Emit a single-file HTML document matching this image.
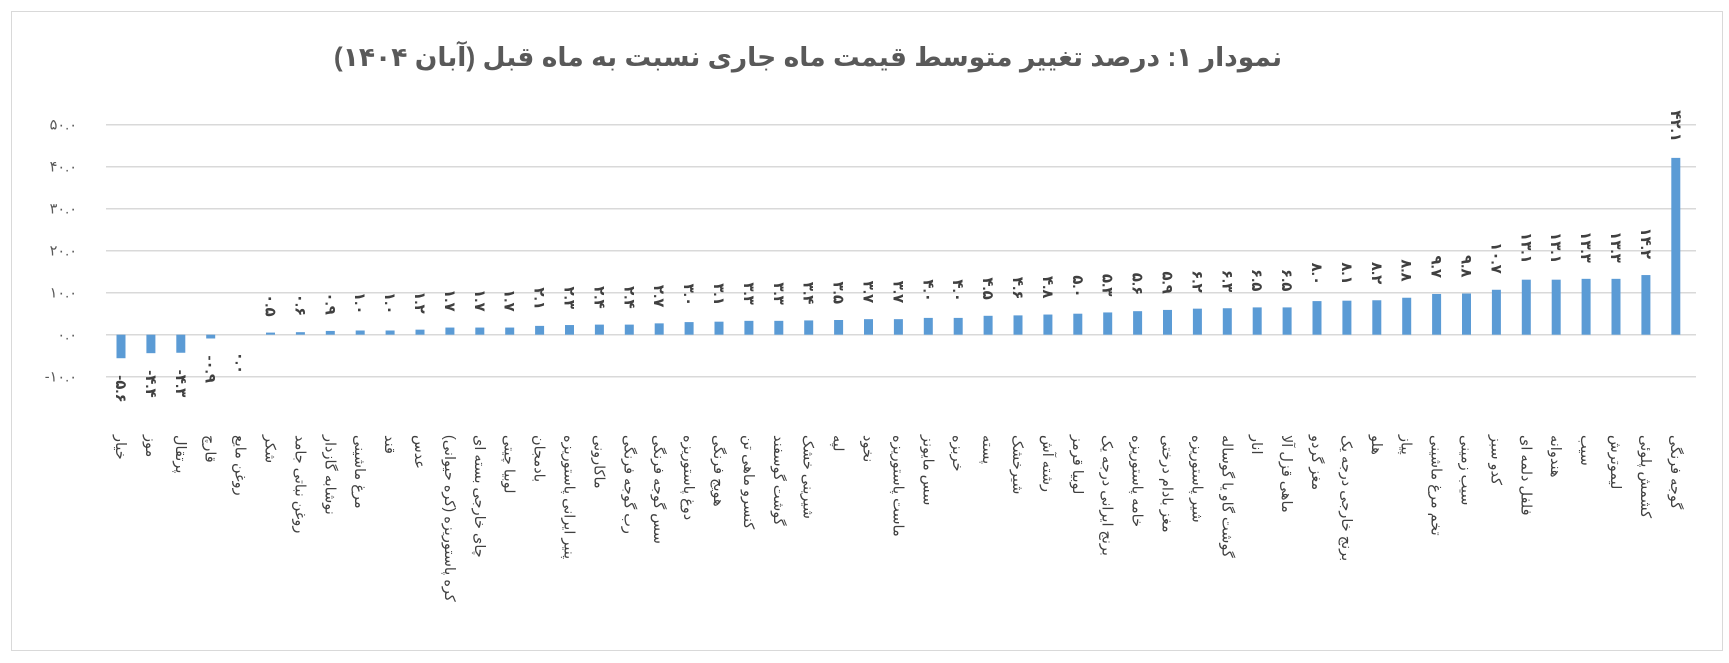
<!DOCTYPE html>
<html><head><meta charset="utf-8"><style>
html,body{margin:0;padding:0;background:#fff;}
svg{display:block;font-family:"Liberation Sans","DejaVu Sans",sans-serif;}
.c{font-size:14.5px;fill:#404040;}
.d{font-size:15px;font-weight:bold;fill:#404040;}
.y{font-size:14.5px;fill:#595959;}
</style></head><body>
<svg width="1729" height="663" viewBox="0 0 1729 663" xmlns="http://www.w3.org/2000/svg">
<rect x="11.5" y="11.5" width="1711" height="639" fill="#fff" stroke="#d9d9d9" stroke-width="1"/>
<text x="808" y="66" text-anchor="middle" direction="rtl" font-size="26.5" font-weight="bold" fill="#595959">نمودار ۱: درصد تغییر متوسط قیمت ماه جاری نسبت به ماه قبل (آبان ۱۴۰۴)</text>
<g stroke="#d9d9d9" stroke-width="1.5">
<line x1="106" x2="1696" y1="124.7" y2="124.7"/>
<line x1="106" x2="1696" y1="166.7" y2="166.7"/>
<line x1="106" x2="1696" y1="208.7" y2="208.7"/>
<line x1="106" x2="1696" y1="250.7" y2="250.7"/>
<line x1="106" x2="1696" y1="292.7" y2="292.7"/>
<line x1="106" x2="1696" y1="334.7" y2="334.7"/>
<line x1="106" x2="1696" y1="376.7" y2="376.7"/>
</g>
<g class="y" text-anchor="end" direction="ltr">
<text x="77" y="129.7">۵۰.۰</text>
<text x="77" y="171.7">۴۰.۰</text>
<text x="77" y="213.7">۳۰.۰</text>
<text x="77" y="255.7">۲۰.۰</text>
<text x="77" y="297.7">۱۰.۰</text>
<text x="77" y="339.7">۰.۰</text>
<text x="77" y="381.7">-۱۰.۰</text>
</g>
<g transform="translate(0,334.7) scale(1,-4.2)" fill="#5b9bd5">
<rect x="116.5" y="-5.6" width="9" height="5.6"/>
<rect x="146.4" y="-4.4" width="9" height="4.4"/>
<rect x="176.3" y="-4.3" width="9" height="4.3"/>
<rect x="206.2" y="-0.9" width="9" height="0.9"/>
<rect x="266.0" y="0" width="9" height="0.5"/>
<rect x="295.9" y="0" width="9" height="0.6"/>
<rect x="325.8" y="0" width="9" height="0.9"/>
<rect x="355.7" y="0" width="9" height="1.0"/>
<rect x="385.6" y="0" width="9" height="1.0"/>
<rect x="415.5" y="0" width="9" height="1.2"/>
<rect x="445.4" y="0" width="9" height="1.7"/>
<rect x="475.3" y="0" width="9" height="1.7"/>
<rect x="505.2" y="0" width="9" height="1.7"/>
<rect x="535.1" y="0" width="9" height="2.1"/>
<rect x="565.0" y="0" width="9" height="2.3"/>
<rect x="594.9" y="0" width="9" height="2.4"/>
<rect x="624.8" y="0" width="9" height="2.4"/>
<rect x="654.7" y="0" width="9" height="2.7"/>
<rect x="684.6" y="0" width="9" height="3.0"/>
<rect x="714.5" y="0" width="9" height="3.1"/>
<rect x="744.4" y="0" width="9" height="3.3"/>
<rect x="774.3" y="0" width="9" height="3.3"/>
<rect x="804.2" y="0" width="9" height="3.4"/>
<rect x="834.1" y="0" width="9" height="3.5"/>
<rect x="864.0" y="0" width="9" height="3.7"/>
<rect x="893.9" y="0" width="9" height="3.7"/>
<rect x="923.8" y="0" width="9" height="4.0"/>
<rect x="953.7" y="0" width="9" height="4.0"/>
<rect x="983.6" y="0" width="9" height="4.5"/>
<rect x="1013.5" y="0" width="9" height="4.6"/>
<rect x="1043.4" y="0" width="9" height="4.8"/>
<rect x="1073.3" y="0" width="9" height="5.0"/>
<rect x="1103.2" y="0" width="9" height="5.3"/>
<rect x="1133.1" y="0" width="9" height="5.6"/>
<rect x="1163.0" y="0" width="9" height="5.9"/>
<rect x="1192.9" y="0" width="9" height="6.2"/>
<rect x="1222.8" y="0" width="9" height="6.3"/>
<rect x="1252.7" y="0" width="9" height="6.5"/>
<rect x="1282.6" y="0" width="9" height="6.5"/>
<rect x="1312.5" y="0" width="9" height="8.0"/>
<rect x="1342.4" y="0" width="9" height="8.1"/>
<rect x="1372.3" y="0" width="9" height="8.2"/>
<rect x="1402.2" y="0" width="9" height="8.8"/>
<rect x="1432.1" y="0" width="9" height="9.7"/>
<rect x="1462.0" y="0" width="9" height="9.8"/>
<rect x="1491.9" y="0" width="9" height="10.7"/>
<rect x="1521.8" y="0" width="9" height="13.1"/>
<rect x="1551.7" y="0" width="9" height="13.1"/>
<rect x="1581.6" y="0" width="9" height="13.3"/>
<rect x="1611.5" y="0" width="9" height="13.3"/>
<rect x="1641.4" y="0" width="9" height="14.2"/>
<rect x="1671.3" y="0" width="9" height="42.1"/>
</g>
<g class="d" direction="ltr">
<text text-anchor="start" transform="translate(116,375.2) rotate(90)">-۵.۶</text>
<text text-anchor="start" transform="translate(145.9,370.2) rotate(90)">-۴.۴</text>
<text text-anchor="start" transform="translate(175.8,369.8) rotate(90)">-۴.۳</text>
<text text-anchor="start" transform="translate(205.7,355.5) rotate(90)">-۰.۹</text>
<text text-anchor="start" transform="translate(235.6,351.7) rotate(90)">۰.۰</text>
</g>
<g class="d" direction="ltr" text-anchor="end">
<text transform="translate(265.5,316.6) rotate(90)">۰.۵</text>
<text transform="translate(295.4,316.2) rotate(90)">۰.۶</text>
<text transform="translate(325.3,314.9) rotate(90)">۰.۹</text>
<text transform="translate(355.2,314.5) rotate(90)">۱.۰</text>
<text transform="translate(385.1,314.5) rotate(90)">۱.۰</text>
<text transform="translate(415.0,313.7) rotate(90)">۱.۲</text>
<text transform="translate(444.9,311.6) rotate(90)">۱.۷</text>
<text transform="translate(474.8,311.6) rotate(90)">۱.۷</text>
<text transform="translate(504.7,311.6) rotate(90)">۱.۷</text>
<text transform="translate(534.6,309.9) rotate(90)">۲.۱</text>
<text transform="translate(564.5,309.0) rotate(90)">۲.۳</text>
<text transform="translate(594.4,308.6) rotate(90)">۲.۴</text>
<text transform="translate(624.3,308.6) rotate(90)">۲.۴</text>
<text transform="translate(654.2,307.4) rotate(90)">۲.۷</text>
<text transform="translate(684.1,306.1) rotate(90)">۳.۰</text>
<text transform="translate(714.0,305.7) rotate(90)">۳.۱</text>
<text transform="translate(743.9,304.8) rotate(90)">۳.۳</text>
<text transform="translate(773.8,304.8) rotate(90)">۳.۳</text>
<text transform="translate(803.7,304.4) rotate(90)">۳.۴</text>
<text transform="translate(833.6,304.0) rotate(90)">۳.۵</text>
<text transform="translate(863.5,303.2) rotate(90)">۳.۷</text>
<text transform="translate(893.4,303.2) rotate(90)">۳.۷</text>
<text transform="translate(923.3,301.9) rotate(90)">۴.۰</text>
<text transform="translate(953.2,301.9) rotate(90)">۴.۰</text>
<text transform="translate(983.1,299.8) rotate(90)">۴.۵</text>
<text transform="translate(1013.0,299.4) rotate(90)">۴.۶</text>
<text transform="translate(1042.9,298.5) rotate(90)">۴.۸</text>
<text transform="translate(1072.8,297.7) rotate(90)">۵.۰</text>
<text transform="translate(1102.7,296.4) rotate(90)">۵.۳</text>
<text transform="translate(1132.6,295.2) rotate(90)">۵.۶</text>
<text transform="translate(1162.5,293.9) rotate(90)">۵.۹</text>
<text transform="translate(1192.4,292.7) rotate(90)">۶.۲</text>
<text transform="translate(1222.3,292.2) rotate(90)">۶.۳</text>
<text transform="translate(1252.2,291.4) rotate(90)">۶.۵</text>
<text transform="translate(1282.1,291.4) rotate(90)">۶.۵</text>
<text transform="translate(1312.0,285.1) rotate(90)">۸.۰</text>
<text transform="translate(1341.9,284.7) rotate(90)">۸.۱</text>
<text transform="translate(1371.8,284.3) rotate(90)">۸.۲</text>
<text transform="translate(1401.7,281.7) rotate(90)">۸.۸</text>
<text transform="translate(1431.6,278.0) rotate(90)">۹.۷</text>
<text transform="translate(1461.5,277.5) rotate(90)">۹.۸</text>
<text transform="translate(1491.4,273.8) rotate(90)">۱۰.۷</text>
<text transform="translate(1521.3,263.7) rotate(90)">۱۳.۱</text>
<text transform="translate(1551.2,263.7) rotate(90)">۱۳.۱</text>
<text transform="translate(1581.1,262.8) rotate(90)">۱۳.۳</text>
<text transform="translate(1611.0,262.8) rotate(90)">۱۳.۳</text>
<text transform="translate(1640.9,259.1) rotate(90)">۱۴.۲</text>
<text transform="translate(1670.8,141.9) rotate(90)">۴۲.۱</text>
</g>
<g class="c" direction="ltr" text-anchor="start">
<text transform="translate(116,435) rotate(90)">خیار</text>
<text transform="translate(145.9,435) rotate(90)">موز</text>
<text transform="translate(175.8,435) rotate(90)">پرتقال</text>
<text transform="translate(205.7,435) rotate(90)">قارچ</text>
<text transform="translate(235.6,435) rotate(90)">روغن مایع</text>
<text transform="translate(265.5,435) rotate(90)">شکر</text>
<text transform="translate(295.4,435) rotate(90)">روغن نباتی جامد</text>
<text transform="translate(325.3,435) rotate(90)">نوشابه گازدار</text>
<text transform="translate(355.2,435) rotate(90)">مرغ ماشینی</text>
<text transform="translate(385.1,435) rotate(90)">قند</text>
<text transform="translate(415.0,435) rotate(90)">عدس</text>
<text transform="translate(444.9,435) rotate(90)">کره پاستوریزه (کره حیوانی)</text>
<text transform="translate(474.8,435) rotate(90)">چای خارجی بسته ای</text>
<text transform="translate(504.7,435) rotate(90)">لوبیا چیتی</text>
<text transform="translate(534.6,435) rotate(90)">بادمجان</text>
<text transform="translate(564.5,435) rotate(90)">پنیر ایرانی پاستوریزه</text>
<text transform="translate(594.4,435) rotate(90)">ماکارونی</text>
<text transform="translate(624.3,435) rotate(90)">رب گوجه فرنگی</text>
<text transform="translate(654.2,435) rotate(90)">سس گوجه فرنگی</text>
<text transform="translate(684.1,435) rotate(90)">دوغ پاستوریزه</text>
<text transform="translate(714.0,435) rotate(90)">هویج فرنگی</text>
<text transform="translate(743.9,435) rotate(90)">کنسرو ماهی تن</text>
<text transform="translate(773.8,435) rotate(90)">گوشت گوسفند</text>
<text transform="translate(803.7,435) rotate(90)">شیرینی خشک</text>
<text transform="translate(833.6,435) rotate(90)">لپه</text>
<text transform="translate(863.5,435) rotate(90)">نخود</text>
<text transform="translate(893.4,435) rotate(90)">ماست پاستوریزه</text>
<text transform="translate(923.3,435) rotate(90)">سس مایونز</text>
<text transform="translate(953.2,435) rotate(90)">خربزه</text>
<text transform="translate(983.1,435) rotate(90)">پسته</text>
<text transform="translate(1013.0,435) rotate(90)">شیرخشک</text>
<text transform="translate(1042.9,435) rotate(90)">رشته آش</text>
<text transform="translate(1072.8,435) rotate(90)">لوبیا قرمز</text>
<text transform="translate(1102.7,435) rotate(90)">برنج ایرانی درجه یک</text>
<text transform="translate(1132.6,435) rotate(90)">خامه پاستوریزه</text>
<text transform="translate(1162.5,435) rotate(90)">مغز بادام درختی</text>
<text transform="translate(1192.4,435) rotate(90)">شیر پاستوریزه</text>
<text transform="translate(1222.3,435) rotate(90)">گوشت گاو یا گوساله</text>
<text transform="translate(1252.2,435) rotate(90)">انار</text>
<text transform="translate(1282.1,435) rotate(90)">ماهی قزل آلا</text>
<text transform="translate(1312.0,435) rotate(90)">مغز گردو</text>
<text transform="translate(1341.9,435) rotate(90)">برنج خارجی درجه یک</text>
<text transform="translate(1371.8,435) rotate(90)">هلو</text>
<text transform="translate(1401.7,435) rotate(90)">پیاز</text>
<text transform="translate(1431.6,435) rotate(90)">تخم مرغ ماشینی</text>
<text transform="translate(1461.5,435) rotate(90)">سیب زمینی</text>
<text transform="translate(1491.4,435) rotate(90)">کدو سبز</text>
<text transform="translate(1521.3,435) rotate(90)">فلفل دلمه ای</text>
<text transform="translate(1551.2,435) rotate(90)">هندوانه</text>
<text transform="translate(1581.1,435) rotate(90)">سیب</text>
<text transform="translate(1611.0,435) rotate(90)">لیموترش</text>
<text transform="translate(1640.9,435) rotate(90)">کشمش پلوئی</text>
<text transform="translate(1670.8,435) rotate(90)">گوجه فرنگی</text>
</g>
</svg>
</body></html>
